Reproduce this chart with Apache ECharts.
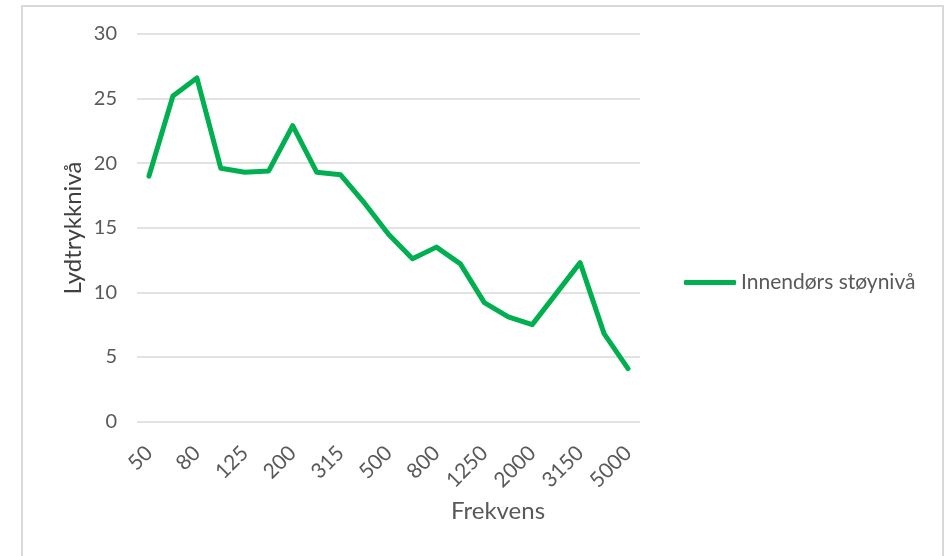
<!DOCTYPE html>
<html>
<head>
<meta charset="utf-8">
<script src="https://cdn.jsdelivr.net/npm/echarts@6/dist/echarts.min.js"></script>
<style>
  html, body { margin: 0; padding: 0; background: #ffffff; }
  #chart { width: 949px; height: 556px; }
</style>
</head>
<body>
<div id="chart"></div>
<script>
// Third-octave band centre frequencies (Hz)
const frequencies = ['50', '63', '80', '100', '125', '160', '200', '250', '315', '400', '500',
  '630', '800', '1000', '1250', '1600', '2000', '2500', '3150', '4000', '5000'];

// Indoor sound pressure level per band
const indoorLevels = [19.0, 25.2, 26.6, 19.6, 19.3, 19.4, 22.9, 19.3, 19.1, 16.9, 14.5,
  12.6, 13.5, 12.2, 9.2, 8.1, 7.5, 9.9, 12.3, 6.8, 4.1];

const seriesName = 'Innendørs støynivå';
const xTitle = 'Frekvens';
const yTitle = 'Lydtrykknivå';

const font = 'Lato, "Open Sans", sans-serif';
const textGray = '#595959';
const lineGreen = '#00b050';

const chart = echarts.init(document.getElementById('chart'));
chart.setOption({
  backgroundColor: '#ffffff',
  animation: false,
  grid: {
    left: 137, top: 34, width: 503, height: 387.5,
    containLabel: false, outerBoundsMode: 'none'
  },
  legend: {
    left: 684, top: 272, padding: 0,
    icon: 'roundRect',
    itemWidth: 52, itemHeight: 5, itemGap: 5,
    itemStyle: { color: lineGreen, borderWidth: 0 },
    textStyle: { fontFamily: font, fontSize: 21, color: textGray, padding: [0, 0, 0, 0] },
    data: [seriesName]
  },
  xAxis: {
    type: 'category',
    data: frequencies,
    boundaryGap: true,
    axisLine: { show: false },
    axisTick: { show: false },
    axisLabel: {
      interval: 1, rotate: 45, margin: 28,
      fontFamily: font, fontSize: 21, color: textGray
    },
    splitLine: { show: false }
  },
  yAxis: {
    type: 'value',
    min: 0, max: 30, interval: 5,
    axisLine: { show: false },
    axisTick: { show: false },
    axisLabel: { margin: 20, fontFamily: font, fontSize: 20, color: textGray },
    splitLine: { lineStyle: { color: '#d9d9d9', width: 1.5 } }
  },
  series: [{
    name: seriesName,
    type: 'line',
    data: indoorLevels,
    symbol: 'none',
    lineStyle: { color: lineGreen, width: 5, cap: 'round', join: 'round' },
    itemStyle: { color: lineGreen }
  }],
  graphic: [
    {
      type: 'rect', silent: true, z: -1,
      shape: { x: 22, y: 6, width: 921, height: 620 },
      style: { fill: 'none', stroke: '#d9d9d9', lineWidth: 2 }
    },
    {
      type: 'text', silent: true,
      x: 498, y: 511,
      style: {
        text: xTitle, font: '24px ' + font, fill: textGray,
        align: 'center', verticalAlign: 'middle'
      }
    },
    {
      type: 'text', silent: true,
      x: 73, y: 228, rotation: Math.PI / 2,
      style: {
        text: yTitle, font: '24px ' + font, fill: '#404040',
        align: 'center', verticalAlign: 'middle'
      }
    }
  ]
});
</script>
</body>
</html>
